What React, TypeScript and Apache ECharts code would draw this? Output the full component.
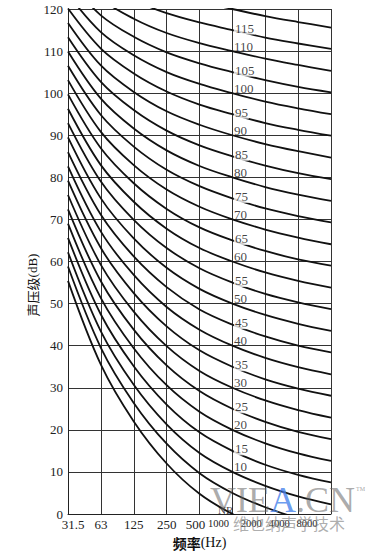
import React, { useEffect, useRef } from "react";
import * as echarts from "echarts";

// Octave-band centre frequencies (Hz), drawn as equally spaced positions 0..8
const freqLabels = ["31.5", "63", "125", "250", "500", "1000", "2000", "4000", "8000"];

// NR curve numbers
const nrLevels = [0, 5, 10, 15, 20, 25, 30, 35, 40, 45, 50, 55, 60, 65, 70, 75, 80, 85, 90, 95, 100, 105, 110, 115, 120];

// Sound pressure level (dB) of each NR curve at the 9 octave bands
const nrCurves: number[][] = [
  [55.4, 35.5, 22.0, 12.0, 4.8, 0, -3.5, -6.1, -8.0],
  [58.8, 39.5, 26.4, 16.7, 9.7, 5, 1.6, -1.0, -2.9],
  [62.2, 43.4, 30.7, 21.3, 14.5, 10, 6.7, 4.2, 2.3],
  [65.6, 47.4, 35.1, 26.0, 19.4, 15, 11.7, 9.3, 7.5],
  [69.0, 51.3, 39.4, 30.6, 24.3, 20, 16.8, 14.4, 12.6],
  [72.4, 55.3, 43.8, 35.3, 29.2, 25, 21.9, 19.5, 17.8],
  [75.8, 59.2, 48.1, 39.9, 34.0, 30, 27.0, 24.7, 22.9],
  [79.2, 63.2, 52.5, 44.6, 38.9, 35, 32.0, 29.8, 28.1],
  [82.6, 67.1, 56.8, 49.2, 43.8, 40, 37.1, 34.9, 33.2],
  [86.0, 71.1, 61.2, 53.9, 48.6, 45, 42.2, 40.0, 38.4],
  [89.5, 75.0, 65.5, 58.5, 53.5, 50, 47.3, 45.2, 43.5],
  [92.9, 79.0, 69.9, 63.2, 58.4, 55, 52.3, 50.3, 48.7],
  [96.3, 82.9, 74.2, 67.8, 63.2, 60, 57.4, 55.4, 53.8],
  [99.7, 86.9, 78.6, 72.5, 68.1, 65, 62.5, 60.5, 59.0],
  [103.1, 90.8, 82.9, 77.1, 73.0, 70, 67.6, 65.7, 64.1],
  [106.5, 94.8, 87.3, 81.8, 77.9, 75, 72.6, 70.8, 69.3],
  [109.9, 98.7, 91.6, 86.4, 82.7, 80, 77.7, 75.9, 74.4],
  [113.3, 102.7, 96.0, 91.1, 87.6, 85, 82.8, 81.0, 79.6],
  [116.7, 106.6, 100.3, 95.7, 92.5, 90, 87.9, 86.2, 84.7],
  [120.1, 110.6, 104.7, 100.4, 97.3, 95, 92.9, 91.3, 89.9],
  [123.5, 114.5, 109.0, 105.0, 102.2, 100, 98.0, 96.4, 95.0],
  [126.9, 118.5, 113.4, 109.7, 107.1, 105, 103.1, 101.5, 100.2],
  [130.3, 122.4, 117.7, 114.3, 111.9, 110, 108.2, 106.7, 105.3],
  [133.7, 126.4, 122.1, 119.0, 116.8, 115, 113.2, 111.8, 110.5],
  [137.1, 130.3, 126.4, 123.6, 121.7, 120, 118.3, 116.9, 115.6],
];

// Curve numbers printed beside the 1000 Hz line
const curveLabelLevels = [10, 15, 20, 25, 30, 35, 40, 45, 50, 55, 60, 65, 70, 75, 80, 85, 90, 95, 100, 105, 110, 115];
const labelBandIndex = 5; // 1000 Hz

const serif = '"Liberation Serif", "DejaVu Serif", "Noto Sans CJK SC", serif';
const ink = "#111111";

// per-label horizontal nudges (rich padding) and font sizes of the x tick labels
const xLabelPads: number[][] = [
  [0, 0, 0, 10],
  [0, 0, 0, 0],
  [0, 0, 0, 0],
  [0, 0, 0, 0],
  [0, 8, 0, 0],
  [0, 28, 0, 0],
  [0, 28, 0, 0],
  [0, 38, 0, 0],
  [0, 48, 0, 0],
];
const xLabelSizes = [13, 13, 13, 13, 13, 10.5, 10.5, 10.5, 10.5];

export default function App() {
  const ref = useRef<HTMLDivElement>(null);

  useEffect(() => {
    if (!ref.current) return;
    const chart = echarts.init(ref.current, undefined, { renderer: "svg" });

    const lineSeries = nrLevels.map((nr, k) => ({
      type: "line",
      name: "NR" + nr,
      data: nrCurves[k].map((v, i) => [i, v]),
      smooth: 0.35,
      symbol: "none",
      clip: true,
      silent: true,
      lineStyle: { color: ink, width: 1.8 },
      z: 3,
    }));

    const labelData: any[] = curveLabelLevels.map((n) => {
      const odd = n % 10 === 5;
      return {
        value: [labelBandIndex, n],
        label: {
          show: true,
          formatter: String(n),
          position: "right",
          distance: 1,
          offset: odd ? [0, -2] : [0, -5],
          color: ink,
          fontFamily: serif,
          fontSize: 13,
          backgroundColor: odd ? "#fff" : "transparent",
          padding: odd ? [0, 1, 0, 1] : 0,
        },
      };
    });
    labelData.push({
      value: [4.55, 1],
      label: {
        show: true,
        formatter: "NR",
        position: "right",
        distance: 0,
        offset: [0, 0],
        color: ink,
        fontFamily: serif,
        fontSize: 11,
        backgroundColor: "transparent",
        padding: 0,
      },
    });

    const rich: Record<string, any> = {};
    xLabelPads.forEach((p, i) => {
      rich["t" + i] = { fontFamily: serif, fontSize: xLabelSizes[i], color: "#222", padding: p };
    });

    chart.setOption({
      animation: false,
      backgroundColor: "#fff",
      grid: { left: 68, right: 39, top: 9, bottom: 43, containLabel: false },
      xAxis: {
        type: "value",
        min: 0,
        max: 8,
        interval: 1,
        name: "{c|频率}{e|(Hz)}",
        nameLocation: "middle",
        nameGap: 14,
        nameTextStyle: {
          color: ink,
          rich: {
            c: { fontFamily: '"Noto Sans CJK SC", serif', fontSize: 14, fontWeight: "bold", color: ink },
            e: { fontFamily: serif, fontSize: 14, color: ink },
          },
        },
        axisLine: { show: true, lineStyle: { color: "#222", width: 1 } },
        axisTick: { show: false },
        splitLine: { show: true, lineStyle: { color: "#333", width: 1 } },
        axisLabel: {
          margin: 4,
          formatter: (v: number) => {
            const i = Math.round(v);
            return "{t" + i + "|" + (freqLabels[i] ?? "") + "}";
          },
          rich,
        },
      },
      yAxis: {
        type: "value",
        min: 0,
        max: 120,
        interval: 10,
        axisLine: { show: true, lineStyle: { color: "#222", width: 1 } },
        axisTick: { show: false },
        splitLine: { show: true, lineStyle: { color: "#333", width: 1 } },
        axisLabel: { margin: 5, fontFamily: serif, fontSize: 13, color: "#222" },
      },
      series: [
        ...lineSeries,
        {
          type: "scatter",
          data: labelData,
          symbol: "rect",
          symbolSize: 1,
          silent: true,
          itemStyle: { color: "transparent" },
          label: { fontFamily: serif, fontSize: 13, color: ink },
          z: 5,
        },
      ],
      graphic: [
        {
          type: "text",
          x: 32,
          y: 285,
          rotation: Math.PI / 2,
          style: {
            text: "{c|声压级}{e|(dB)}",
            align: "center",
            verticalAlign: "middle",
            fill: ink,
            rich: {
              c: { fontFamily: '"Noto Sans CJK SC", serif', fontSize: 13, fill: ink },
              e: { fontFamily: serif, fontSize: 13, fill: ink },
            },
          },
          z: 10,
        },
        {
          type: "text",
          x: 210,
          y: 500,
          style: {
            text: "{g|VIE}{b|A}{g|.CN}",
            align: "left",
            verticalAlign: "middle",
            rich: {
              g: { fontFamily: serif, fontSize: 36, fill: "rgba(100,100,100,0.55)" },
              b: { fontFamily: serif, fontSize: 36, fill: "rgba(70,130,235,0.8)" },
            },
          },
          z: 10,
        },
        {
          type: "text",
          x: 356,
          y: 486,
          style: { text: "TM", fontFamily: serif, fontSize: 6, fill: "rgba(100,100,100,0.6)" },
          z: 10,
        },
        {
          type: "text",
          x: 233,
          y: 523,
          style: {
            text: "维也纳声学技术",
            align: "left",
            verticalAlign: "middle",
            fontFamily: '"Noto Sans CJK SC", sans-serif',
            fontSize: 16,
            fill: "rgba(120,120,120,0.6)",
          },
          z: 10,
        },
      ],
    });

    return () => chart.dispose();
  }, []);

  return (
    <div
      ref={ref}
      style={{ position: "fixed", left: 0, top: 0, width: 370, height: 557, background: "#fff" }}
    />
  );
}
